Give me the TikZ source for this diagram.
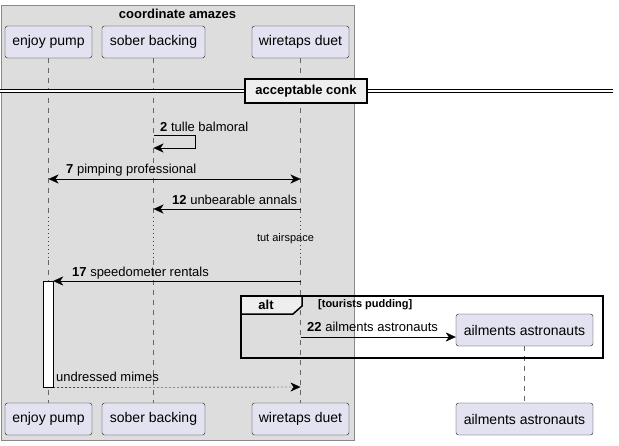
\documentclass[tikz,border=0pt]{standalone}
\usepackage{fontspec}
\setmainfont{Liberation Sans}
\usetikzlibrary{arrows.meta}
\definecolor{boxgrey}{HTML}{DDDDDD}
\definecolor{boxline}{HTML}{888888}
\definecolor{partfill}{HTML}{E2E2F0}
\definecolor{partline}{HTML}{181818}
\definecolor{tabfill}{HTML}{EEEEEE}
\definecolor{delayred}{HTML}{C0003C}
\tikzset{
	part/.style={draw=partline,fill=partfill,rounded corners=2.5pt,minimum height=32pt,inner sep=0pt,font=\fontsize{14}{16}\selectfont},
	life/.style={draw=black!60,dash pattern=on 5pt off 5pt},
	pause/.style={draw=delayred,dash pattern=on 1pt off 3pt},
	msg/.style={-{Stealth[length=10pt,width=9pt,inset=3pt]}},
	both/.style={{Stealth[length=10pt,width=9pt,inset=3pt]}-{Stealth[length=10pt,width=9pt,inset=3pt]}},
	lbl/.style={anchor=base west,inner sep=0pt,font=\fontsize{13}{15}\selectfont}
}
\begin{document}
\begin{tikzpicture}[x=1pt,y=-1pt]
	\useasboundingbox (0,0) rectangle (619,445);
	% box round the first three participants
	\draw[boxline,fill=boxgrey] (1,5) rectangle (354,440);
	\node[font=\bfseries\fontsize{13}{15}\selectfont] (boxtitle) at (177.5,14) {coordinate amazes};
	% participants, top and bottom
	\node[part,minimum width=87pt] (enjoy) at (48.5,42) {enjoy pump};
	\node[part,minimum width=103pt] (sober) at (153.5,42) {sober backing};
	\node[part,minimum width=97pt] (wiretaps) at (300.5,42) {wiretaps duet};
	\node[part,minimum width=87pt] (enjoyB) at (48.5,419) {enjoy pump};
	\node[part,minimum width=103pt] (soberB) at (153.5,419) {sober backing};
	\node[part,minimum width=97pt] (wiretapsB) at (300.5,419) {wiretaps duet};
	\node[part,minimum width=137pt] (ailments) at (524.5,330) {ailments astronauts};
	\node[part,minimum width=137pt] (ailmentsB) at (524.5,419) {ailments astronauts};
	% lifelines, broken by the delay
	\coordinate (enjoyP) at (48.5,217);
	\coordinate (enjoyQ) at (48.5,260);
	\coordinate (soberP) at (153.5,217);
	\coordinate (soberQ) at (153.5,260);
	\coordinate (wireP) at (300.5,217);
	\coordinate (wireQ) at (300.5,260);
	\draw[life] (enjoy.south) -- (enjoyP);
	\draw[pause] (enjoyP) -- (enjoyQ);
	\draw[life] (enjoyQ) -- (enjoyB.north);
	\draw[life] (sober.south) -- (soberP);
	\draw[pause] (soberP) -- (soberQ);
	\draw[life] (soberQ) -- (soberB.north);
	\draw[life] (wiretaps.south) -- (wireP);
	\draw[pause] (wireP) -- (wireQ);
	\draw[life] (wireQ) -- (wiretapsB.north);
	\draw[life] (ailments.south) -- (ailmentsB.north);
	% divider
	\coordinate (divL) at (0,91);
	\coordinate (divR) at (613,91);
	\draw[double,double distance=2pt,line width=0.8pt] (divL) -- (divR);
	\node[draw,line width=1.5pt,fill=tabfill,minimum width=122pt,minimum height=24pt,inner sep=0pt,font=\bfseries\fontsize{13}{15}\selectfont] (conk) at (306,91) {acceptable conk};
	% messages
	\coordinate (s2a) at (153.5,135);
	\coordinate (s2b) at (195,135);
	\coordinate (s2c) at (195,148);
	\coordinate (s2d) at (153.5,148);
	\draw[msg] (s2a) -- (s2b) -- (s2c) -- (s2d);
	\node[lbl] (m2) at (160,131) {\textbf{2} tulle balmoral};
	\coordinate (e7) at (48.5,179);
	\coordinate (w7) at (300.5,179);
	\draw[both] (e7) -- (w7);
	\node[lbl] (m7) at (66,173.5) {\textbf{7} pimping professional};
	\coordinate (w12) at (300.5,209);
	\coordinate (s12) at (153.5,209);
	\draw[msg] (w12) -- (s12);
	\node[lbl] (m12) at (172,204) {\textbf{12} unbearable annals};
	\node[font=\fontsize{11}{13}\selectfont] (tut) at (285.5,239) {tut airspace};
	% activation of enjoy pump
	\node[draw,fill=white,minimum width=10pt,minimum height=106pt,inner sep=0pt,anchor=north] (act) at (48,281) {};
	\coordinate (w17) at (300.5,281);
	\draw[msg] (w17) -- (act.north east);
	\node[lbl] (m17) at (72,276) {\textbf{17} speedometer rentals};
	% alt group
	\draw[line width=1.5pt] (241,296) rectangle (603,358);
	\draw[line width=1.5pt,fill=tabfill] (241,296) -- (302,296) -- (302,306) -- (293,314) -- (241,314) -- cycle;
	\node[font=\bfseries\fontsize{13}{15}\selectfont] (alt) at (266,305) {alt};
	\node[anchor=west,inner sep=0pt,font=\bfseries\fontsize{11}{13}\selectfont] (guard) at (318,304.5) {[tourists pudding]};
	\coordinate (w22) at (300.5,337);
	\draw[msg] (w22) -- (ailments.west |- w22);
	\node[lbl] (m22) at (307,331) {\textbf{22} ailments astronauts};
	% reply
	\coordinate (w27) at (300.5,387);
	\draw[msg,dash pattern=on 2pt off 2pt] (act.south east) -- (w27);
	\node[lbl] (m27) at (56,381.5) {undressed mimes};
\end{tikzpicture}
\end{document}
